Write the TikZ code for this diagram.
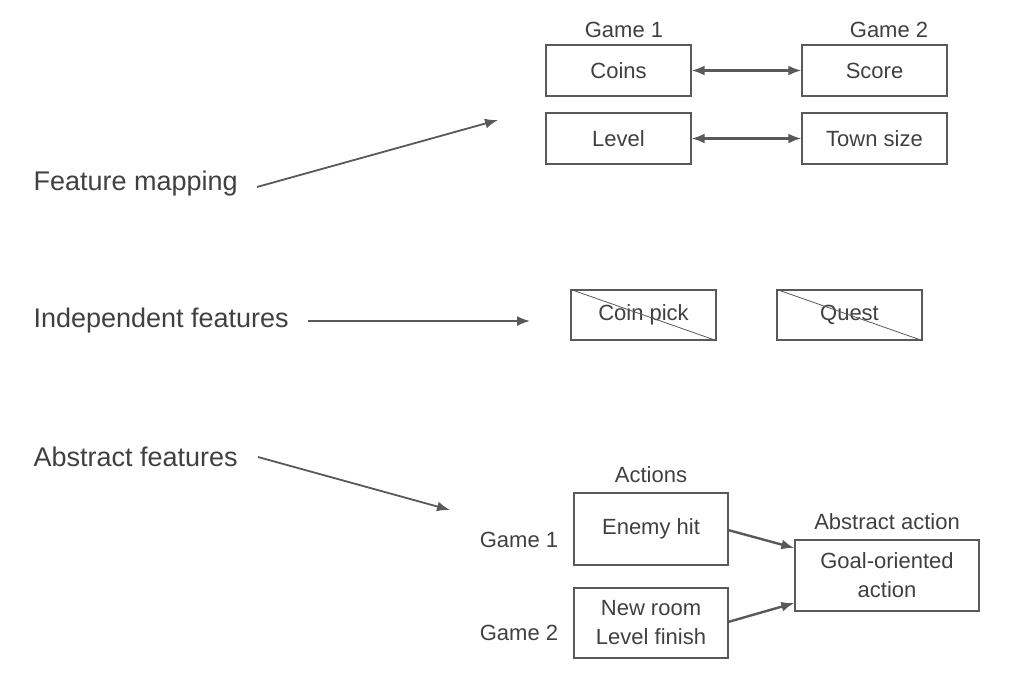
\documentclass[tikz,border=0pt]{standalone}
\usepackage{fontspec}
\setmainfont{Liberation Sans}
\usetikzlibrary{arrows.meta}
\definecolor{ln}{HTML}{595959}
\definecolor{tx}{HTML}{404040}
\begin{document}
\begin{tikzpicture}[x=1pt,y=-1pt,
  box/.style={draw=ln,line width=1.4pt,inner sep=0pt,text=tx,font=\fontsize{22}{29}\selectfont,align=center},
  lbl/.style={text=tx,font=\fontsize{22}{26}\selectfont},
  big/.style={text=tx,font=\fontsize{27}{32}\selectfont,anchor=west},
  arr/.style={draw=ln,line width=1.8pt,-{Latex[length=13pt,width=10pt]}},
  darr/.style={draw=ln,line width=2.2pt,{Latex[length=13pt,width=10pt]}-{Latex[length=13pt,width=10pt]}}]
\useasboundingbox (0,0) rectangle (1024,680);
\node[box,minimum width=145,minimum height=51] (coins) at (618.5,70.5) {Coins};
\node[box,minimum width=145,minimum height=51] (score) at (874.5,70.5) {Score};
\node[box,minimum width=145,minimum height=51] (level) at (618.5,138.5) {Level};
\node[box,minimum width=145,minimum height=51] (town) at (874.5,138.5) {Town size};
\node[lbl] (g1) at (624,30) {Game 1};
\node[lbl] (g2) at (889,30) {Game 2};
\draw[darr] (coins) -- (score);
\draw[darr] (level) -- (town);
\node[big] (fm) at (30,184) {Feature mapping};
\coordinate (fmE) at (498,120);
\draw[arr] (257,187) -- (fmE);
\node[big] (if) at (30,321) {Independent features};
\coordinate (ifE) at (530,321);
\draw[arr] (308,321) -- (ifE);
\node[box,minimum width=145,minimum height=50] (cp) at (643.5,315) {Coin pick};
\draw[ln,line width=0.8pt] (cp.north west) -- (cp.south east);
\node[box,minimum width=145,minimum height=50] (qu) at (849.5,315) {Quest};
\draw[ln,line width=0.8pt] (qu.north west) -- (qu.south east);
\node[big] (af) at (30,457) {Abstract features};
\coordinate (afE) at (450,510);
\draw[arr] (258,457) -- (afE);
\node[lbl] (act) at (651,475) {Actions};
\node[box,minimum width=154,minimum height=72] (eh) at (651,529) {Enemy hit};
\node[box,minimum width=154,minimum height=70] (nr) at (651,623) {New room\\Level finish};
\node[lbl] (gg1) at (519,540) {Game 1};
\node[lbl] (gg2) at (519,633) {Game 2};
\node[lbl] (aa) at (887,522) {Abstract action};
\node[box,minimum width=184,minimum height=71] (goal) at (887,575.5) {Goal-oriented\\action};
\draw[arr,line width=2.4pt] (728,530) -- (goal.west|-0,548);
\draw[arr,line width=2.4pt] (728,622) -- (goal.west|-0,603);
\end{tikzpicture}
\end{document}
